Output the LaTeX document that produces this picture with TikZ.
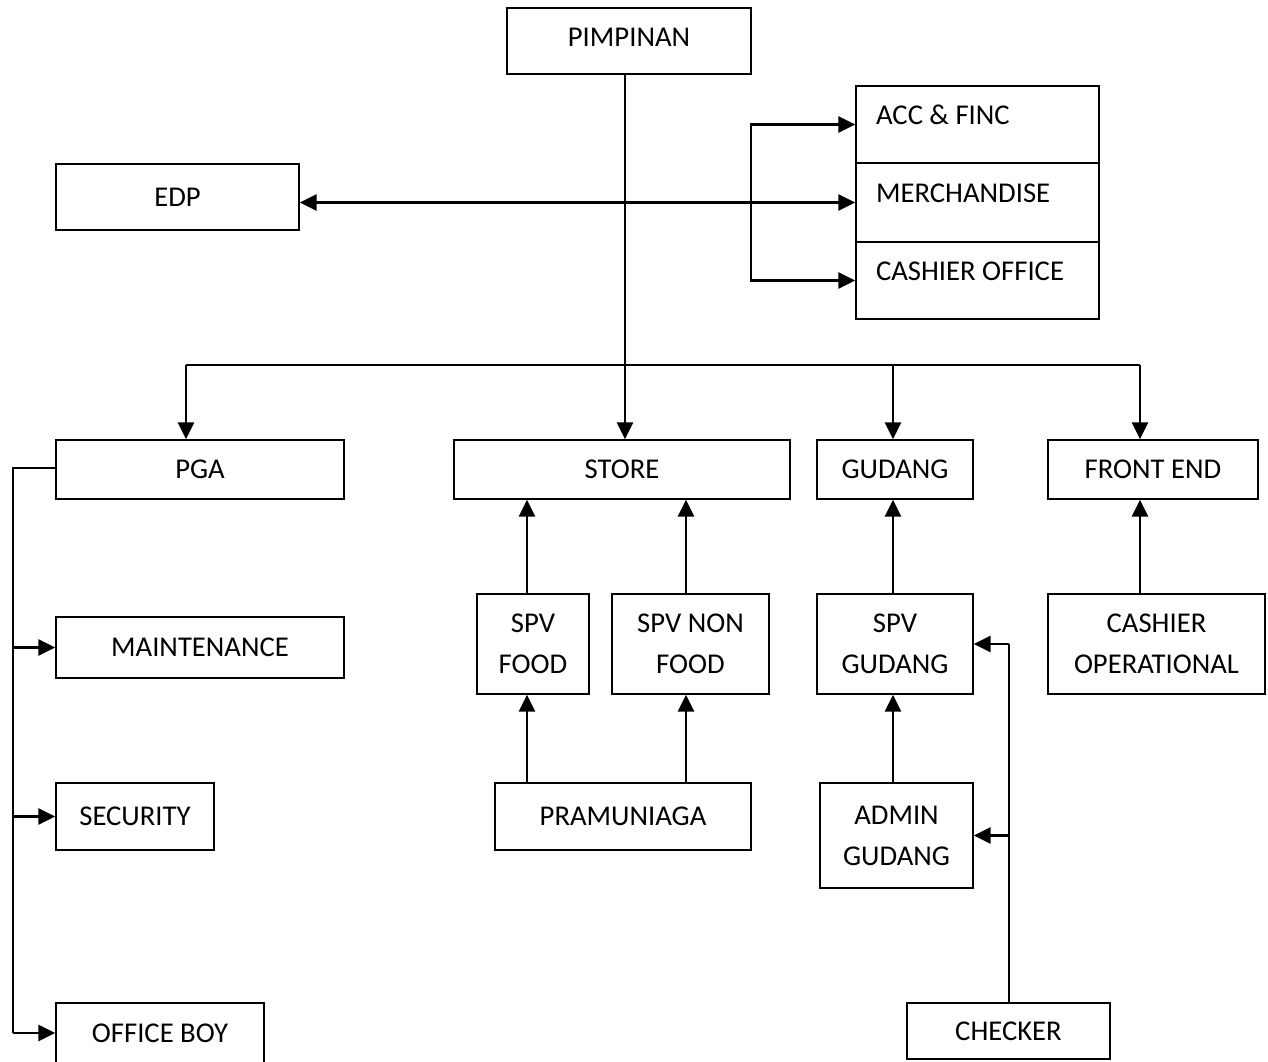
\documentclass[tikz,border=0pt]{standalone}
\usepackage{fontspec}
\setmainfont{Carlito}
\usetikzlibrary{arrows.meta}

% box from corner (x1,y1) to corner (x2,y2), in pixel units
\newcommand\orgbox[7][]{%
  \node[box, #1, minimum width={(#5-#3)*0.75pt}, minimum height={(#6-#4)*0.75pt}]
    (#2) at ({(#3+#5)/2},{(#4+#6)/2}) {#7};}

\begin{document}
\begin{tikzpicture}[
  x=0.75pt, y=-0.75pt,
  box/.style={draw, line width=1.3pt, inner sep=0pt, align=center,
    font=\fontsize{21.5}{30.75}\selectfont},
  cell/.style={label={[cellText]west:#1}},
  cellText/.style={anchor=west, xshift=15.5pt, yshift=7pt, inner sep=0pt,
    font=\fontsize{21.5}{30.75}\selectfont},
  conn/.style={line width=1.6pt},
  arr/.style={conn, -{Triangle[length=12.5pt,width=12pt]}},
  arrboth/.style={conn, {Triangle[length=12.5pt,width=12pt]}-{Triangle[length=12.5pt,width=12pt]}}
]
\useasboundingbox (0,0) rectangle (1268,1061);
\clip (0,0) rectangle (1268,1061);

% top level
\orgbox[text depth=6pt]{pim}{507}{8}{751}{74}{PIMPINAN}
\orgbox{edp}{56}{164}{299}{230}{EDP}

% stacked office units
\orgbox[cell={ACC \& FINC}]{acc}{856}{86}{1099}{163}{}
\orgbox[cell={MERCHANDISE}]{merch}{856}{163}{1099}{242}{}
\orgbox[cell={CASHIER OFFICE}]{cashoff}{856}{242}{1099}{319}{}

% departments
\orgbox{pga}{56}{440}{344}{499}{PGA}
\orgbox{store}{454}{440}{790}{499}{STORE}
\orgbox{gudang}{817}{440}{973}{499}{GUDANG}
\orgbox{front}{1048}{440}{1258}{499}{FRONT END}

% PGA units
\orgbox{maint}{56}{617}{344}{678}{MAINTENANCE}
\orgbox{sec}{56}{783}{214}{850}{SECURITY}
\orgbox{boy}{56}{1003}{264}{1063}{OFFICE BOY}

% store units
\orgbox{spvf}{477}{594}{589}{694}{SPV\\FOOD}
\orgbox{spvnf}{612}{594}{769}{694}{SPV NON\\FOOD}
\orgbox{pram}{495}{783}{751}{850}{PRAMUNIAGA}

% warehouse units
\orgbox{spvg}{817}{594}{973}{694}{SPV\\GUDANG}
\orgbox{admin}{820}{783}{973}{888}{ADMIN\\GUDANG}
\orgbox{checker}{907}{1003}{1110}{1059}{CHECKER}

% front end unit
\orgbox{cashop}{1048}{594}{1265}{694}{CASHIER\\OPERATIONAL}

% guide columns for vertical connectors
\coordinate (trunk) at (625,0);
\coordinate (colF) at (527,0);
\coordinate (colNF) at (686,0);
\coordinate (colG) at (893,0);
\coordinate (colCk) at (1009,0);
\coordinate (colFE) at (1140,0);
\coordinate (colPGA) at (186,0);
\coordinate (brk) at (751,0);
\coordinate (rail) at (13,468);
\coordinate (barL) at (186,365);
\coordinate (barR) at (1140,365);

% main trunk and distribution bar
\draw[arr] (trunk |- pim.south) -- (trunk |- store.north);
\draw[conn] (barL) -- (barR);
\draw[arr] (barL) -- (colPGA |- pga.north);
\draw[arr] (colG |- barL) -- (colG |- gudang.north);
\draw[arr] (barR) -- (colFE |- front.north);

% EDP and office units
\draw[arrboth] (edp.east |- merch.west) -- (merch.west);
\draw[arr] (brk |- merch.west) |- (acc.west);
\draw[arr] (brk |- merch.west) |- (cashoff.west);

% PGA rail
\draw[conn] (pga.west |- rail) -- (rail) -- (rail |- boy.west);
\draw[arr] (rail |- maint.west) -- (maint.west);
\draw[arr] (rail |- sec.west) -- (sec.west);
\draw[arr] (rail |- boy.west) -- (boy.west);

% store reporting lines
\draw[arr] (colF |- spvf.north) -- (colF |- store.south);
\draw[arr] (colNF |- spvnf.north) -- (colNF |- store.south);
\draw[arr] (colF |- pram.north) -- (colF |- spvf.south);
\draw[arr] (colNF |- pram.north) -- (colNF |- spvnf.south);

% warehouse reporting lines
\draw[arr] (colG |- spvg.north) -- (colG |- gudang.south);
\draw[arr] (colG |- admin.north) -- (colG |- spvg.south);
\draw[conn] (colCk |- checker.north) -- (colCk |- spvg.east);
\draw[arr] (colCk |- spvg.east) -- (spvg.east);
\draw[arr] (colCk |- admin.east) -- (admin.east);

% front end reporting line
\draw[arr] (colFE |- cashop.north) -- (colFE |- front.south);
\end{tikzpicture}
\end{document}
